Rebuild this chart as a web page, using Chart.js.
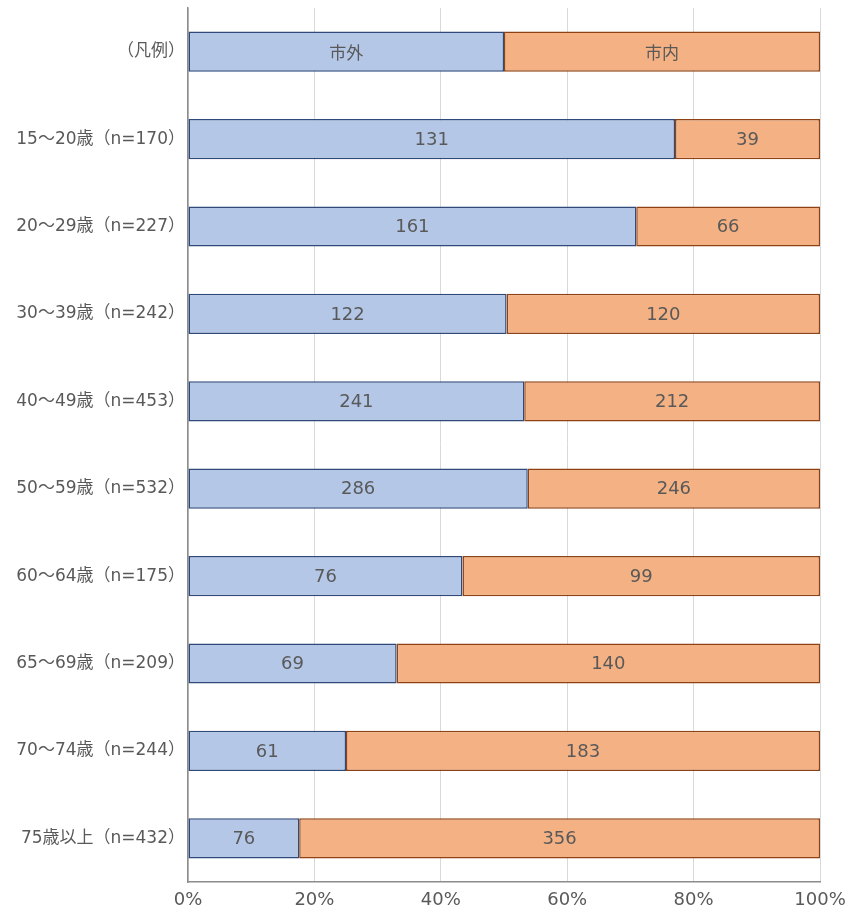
<!DOCTYPE html>
<html><head><meta charset="utf-8">
<script src="https://cdn.jsdelivr.net/npm/chart.js@4/dist/chart.umd.min.js"></script>
<style>html,body{margin:0;padding:0;background:#fff}#wrap{width:852px;height:912px}</style>
</head><body><div id="wrap"><canvas id="c" width="852" height="912"></canvas></div>
<script>
const categories = ['（凡例）','15～20歳（n=170）','20～29歳（n=227）','30～39歳（n=242）','40～49歳（n=453）','50～59歳（n=532）','60～64歳（n=175）','65～69歳（n=209）','70～74歳（n=244）','75歳以上（n=432）'];
const seriesNames = ['市外','市内'];
const outsideCounts = [null,131,161,122,241,286,76,69,61,76];
const insideCounts = [null,39,66,120,212,246,99,140,183,356];
const legendShare = [50,50];
const xTicks = [0,20,40,60,80,100];

const outsidePct = outsideCounts.map((v,i)=> i===0 ? legendShare[0] : v/(v+insideCounts[i])*100);
const insidePct = insideCounts.map((v,i)=> i===0 ? legendShare[1] : v/(v+outsideCounts[i])*100);

const textColor = '#595959';
const fontFamily = '"DejaVu Sans","Noto Sans CJK JP",sans-serif';
const cjkFamily = '"Noto Sans CJK JP",sans-serif';

const labelPlugin = {
  id:'barLabels',
  afterDatasetsDraw(chart){
    const ctx = chart.ctx;
    ctx.save();
    ctx.fillStyle = textColor;
    ctx.textAlign = 'center';
    ctx.textBaseline = 'middle';
    chart.data.datasets.forEach((ds,di)=>{
      const meta = chart.getDatasetMeta(di);
      const counts = di===0 ? outsideCounts : insideCounts;
      meta.data.forEach((el,i)=>{
        const p = el.getCenterPoint();
        const txt = i===0 ? seriesNames[di] : String(counts[i]);
        ctx.font = i===0 ? ('17px ' + cjkFamily) : ('18px ' + fontFamily);
        ctx.fillText(txt, p.x, p.y+1);
      });
    });
    ctx.restore();
  }
};

new Chart(document.getElementById('c'), {
  type:'bar',
  data:{
    labels: categories,
    datasets:[
      {label:seriesNames[0], data:outsidePct, backgroundColor:'#B4C7E7', borderColor:'#2F4A7A', borderWidth:1.5, borderSkipped:false, barPercentage:0.46, categoryPercentage:1},
      {label:seriesNames[1], data:insidePct, backgroundColor:'#F4B183', borderColor:'#8E4214', borderWidth:1.5, borderSkipped:false, barPercentage:0.46, categoryPercentage:1}
    ]
  },
  options:{
    indexAxis:'y',
    responsive:false,
    animation:false,
    layout:{padding:{top:8,right:32,left:0,bottom:0}},
    plugins:{legend:{display:false},tooltip:{enabled:false}},
    scales:{
      x:{
        stacked:true, min:0, max:100,
        afterBuildTicks(s){ s.ticks = xTicks.map(v=>({value:v})); },
        afterFit(s){ s.height = 30; s.paddingLeft = 0; s.paddingRight = 0; },
        ticks:{callback:v=>v+'%', color:textColor, font:{family:fontFamily,size:18}, padding:8, maxRotation:0},
        grid:{color:'#D9D9D9', lineWidth:1, drawTicks:false},
        border:{color:'#8C8C8C', width:1.5}
      },
      y:{
        stacked:true,
        afterFit(s){ s.width = 188; s.paddingTop = 0; s.paddingBottom = 0; },
        ticks:{color:textColor, font:{family:fontFamily,size:17}, padding:3},
        grid:{display:false, drawTicks:false},
        border:{color:'#8C8C8C', width:1.5}
      }
    }
  },
  plugins:[labelPlugin]
});
</script></body></html>
